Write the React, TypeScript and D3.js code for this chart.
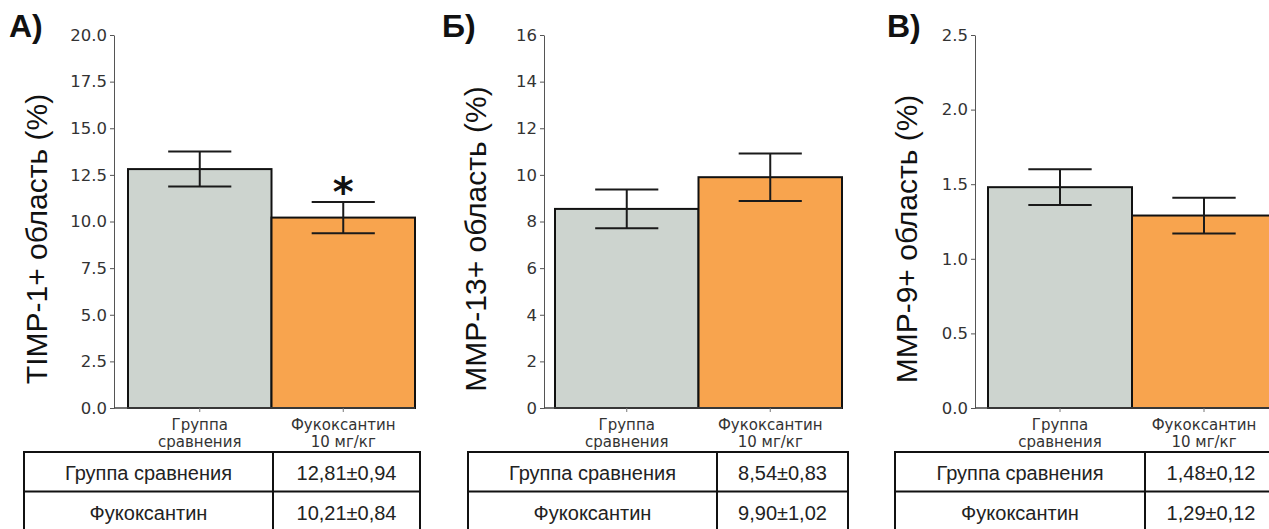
import React, { useEffect, useRef } from "react";
import * as d3 from "d3";

// Data
const groupLines = [
  ["Группа", "сравнения"],
  ["Фукоксантин", "10 мг/кг"],
];
const tableRowNames = ["Группа сравнения", "Фукоксантин"];
const panelLetters = ["А)", "Б)", "В)"];
const yLabels = ["TIMP-1+ область (%)", "MMP-13+ область (%)", "MMP-9+ область (%)"];
const timpMeans = [12.81, 10.21];
const timpErrors = [0.94, 0.84];
const mmp13Means = [8.54, 9.9];
const mmp13Errors = [0.83, 1.02];
const mmp9Means = [1.48, 1.29];
const mmp9Errors = [0.12, 0.12];
const timpTicks = [0, 2.5, 5, 7.5, 10, 12.5, 15, 17.5, 20];
const mmp13Ticks = [0, 2, 4, 6, 8, 10, 12, 14, 16];
const mmp9Ticks = [0, 0.5, 1, 1.5, 2, 2.5];
const significant = [
  [false, true],
  [false, false],
  [false, false],
];

const panels = [
  { means: timpMeans, errors: timpErrors, ticks: timpTicks, fmt: ".1f" },
  { means: mmp13Means, errors: mmp13Errors, ticks: mmp13Ticks, fmt: "d" },
  { means: mmp9Means, errors: mmp9Errors, ticks: mmp9Ticks, fmt: ".1f" },
];

// Layout (pixels)
const layout = [
  { axisX: 114, bar0: 128, bar1: 415, letterX: 9, labelX: 47, tab: [24, 273, 420] },
  { axisX: 544, bar0: 555, bar1: 842, letterX: 442, labelX: 486, tab: [468, 717, 848] },
  { axisX: 975, bar0: 988, bar1: 1276, letterX: 887, labelX: 917, tab: [895, 1145, 1277] },
];
const yTop = 35;
const yBottom = 408;
const colors = ["#cdd4cf", "#f8a44e"];
const commaNum = (v: number) => v.toFixed(2).replace(".", ",");

const App = () => {
  const ref = useRef<SVGSVGElement>(null);

  useEffect(() => {
    const svg = d3.select(ref.current);
    svg.selectAll("*").remove();

    panels.forEach((p, i) => {
      const L = layout[i];
      const g = svg.append("g");

      const x = d3
        .scaleBand<number>()
        .domain([0, 1])
        .range([L.bar0, L.bar1])
        .padding(0);
      const y = d3
        .scaleLinear()
        .domain([0, p.ticks[p.ticks.length - 1]])
        .range([yBottom, yTop]);

      // bars
      g.selectAll(".bar")
        .data(p.means)
        .enter()
        .append("rect")
        .attr("x", (_d, j) => x(j)!)
        .attr("y", (d) => y(d))
        .attr("width", x.bandwidth())
        .attr("height", (d) => yBottom - y(d))
        .attr("fill", (_d, j) => colors[j])
        .attr("stroke", "#111")
        .attr("stroke-width", 2);

      // error bars
      const cap = x.bandwidth() * 0.22;
      p.means.forEach((m, j) => {
        const cx = x(j)! + x.bandwidth() / 2;
        const e = p.errors[j];
        const eg = g.append("g").attr("stroke", "#1a1a1a").attr("stroke-width", 2);
        eg.append("line").attr("x1", cx).attr("x2", cx).attr("y1", y(m - e)).attr("y2", y(m + e));
        [m - e, m + e].forEach((v) =>
          eg.append("line").attr("x1", cx - cap).attr("x2", cx + cap).attr("y1", y(v)).attr("y2", y(v))
        );
        if (significant[i][j]) {
          g.append("text")
            .attr("x", cx)
            .attr("y", y(m + e) + 4)
            .attr("text-anchor", "middle")
            .attr("font-family", "DejaVu Sans")
            .attr("font-weight", "bold")
            .attr("font-size", 40)
            .attr("fill", "#111")
            .text("*");
        }
      });

      // y axis
      const ya = g
        .append("g")
        .attr("transform", `translate(${L.axisX},0)`)
        .call(d3.axisLeft(y).tickValues(p.ticks).tickFormat(d3.format(p.fmt)).tickSize(4).tickSizeOuter(0).tickPadding(3));
      ya.select(".domain").attr("stroke", "#555");
      ya.selectAll(".tick line").attr("stroke", "#555");
      ya.selectAll("text")
        .attr("font-family", "DejaVu Sans")
        .attr("font-size", 16.5)
        .attr("fill", "#333");

      // x axis line and ticks
      g.append("line")
        .attr("x1", L.axisX)
        .attr("x2", L.bar1)
        .attr("y1", yBottom)
        .attr("y2", yBottom)
        .attr("stroke", "#444")
        .attr("stroke-width", 1.5);
      [0, 1].forEach((j) => {
        const cx = x(j)! + x.bandwidth() / 2;
        g.append("line")
          .attr("x1", cx)
          .attr("x2", cx)
          .attr("y1", yBottom)
          .attr("y2", yBottom + 4)
          .attr("stroke", "#777");
        groupLines[j].forEach((t, k) =>
          g.append("text")
            .attr("x", cx)
            .attr("y", 430 + k * 17)
            .attr("text-anchor", "middle")
            .attr("font-family", "DejaVu Sans")
            .attr("font-size", 15)
            .attr("fill", "#333")
            .text(t)
        );
      });

      // y label
      g.append("text")
        .attr("transform", `translate(${L.labelX},239) rotate(-90)`)
        .attr("text-anchor", "middle")
        .attr("font-family", "Liberation Sans")
        .attr("font-size", 30)
        .attr("fill", "#111")
        .text(yLabels[i]);

      // panel letter
      g.append("text")
        .attr("x", L.letterX)
        .attr("y", 37)
        .attr("font-family", "Liberation Sans")
        .attr("font-weight", "bold")
        .attr("font-size", 32)
        .attr("fill", "#111")
        .text(panelLetters[i]);

      // table
      const [t0, t1, t2] = L.tab;
      const rowTop = 452;
      const rowH = 39.5;
      const tg = g.append("g");
      tg.append("rect")
        .attr("x", t0)
        .attr("y", rowTop)
        .attr("width", t2 - t0)
        .attr("height", rowH * 2)
        .attr("fill", "none")
        .attr("stroke", "#111")
        .attr("stroke-width", 2);
      tg.append("line").attr("x1", t0).attr("x2", t2).attr("y1", rowTop + rowH).attr("y2", rowTop + rowH).attr("stroke", "#111").attr("stroke-width", 2);
      tg.append("line").attr("x1", t1).attr("x2", t1).attr("y1", rowTop).attr("y2", rowTop + rowH * 2).attr("stroke", "#111").attr("stroke-width", 2);
      tableRowNames.forEach((name, r) => {
        const by = rowTop + rowH * r + 28;
        tg.append("text")
          .attr("x", (t0 + t1) / 2)
          .attr("y", by)
          .attr("text-anchor", "middle")
          .attr("font-family", "Liberation Sans")
          .attr("font-size", 20)
          .attr("fill", "#222")
          .text(name);
        tg.append("text")
          .attr("x", (t1 + t2) / 2)
          .attr("y", by)
          .attr("text-anchor", "middle")
          .attr("font-family", "Liberation Sans")
          .attr("font-size", 20)
          .attr("fill", "#222")
          .text(`${commaNum(p.means[r])}±${commaNum(p.errors[r])}`);
      });
    });
  }, []);

  return (
    <svg
      ref={ref}
      width={1269}
      height={529}
      style={{ position: "absolute", left: 0, top: 0, background: "#fff" }}
    ></svg>
  );
};

export default App;
